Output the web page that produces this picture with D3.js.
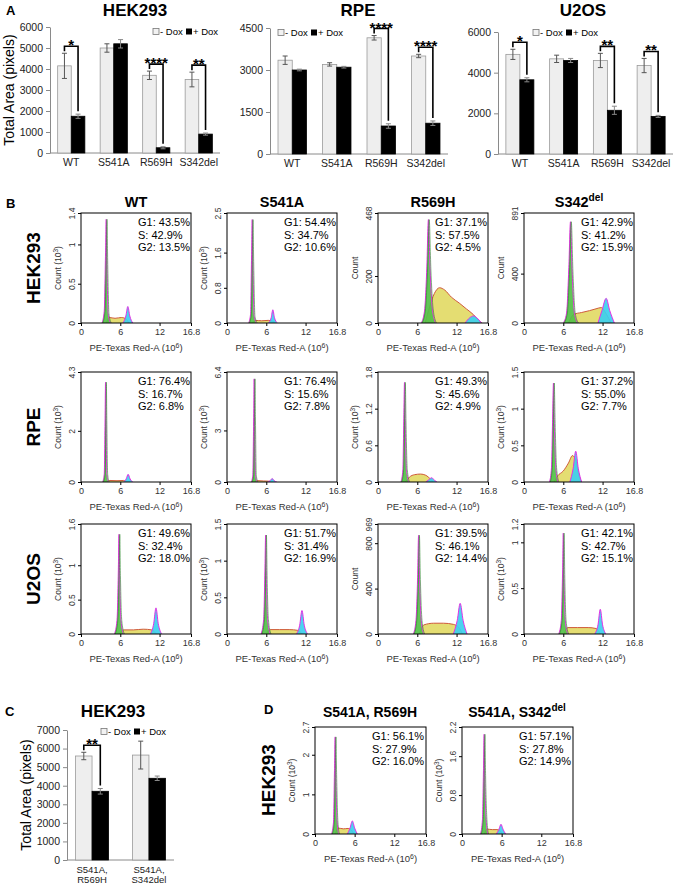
<!DOCTYPE html>
<html>
<head>
<meta charset="utf-8">
<script src="https://cdn.jsdelivr.net/npm/d3@7"></script>
<style>
  body { margin: 0; background: #fff; }
  svg { font-family: "Liberation Sans", Arial, sans-serif; }
</style>
</head>
<body>
<div id="chart"></div>
<script>
// ---- panel A / C : total area bars ----
const barCats = ["WT", "S541A", "R569H", "S342del"];

const hekMinus = [4150, 5000, 3700, 3500];
const hekMinusErr = [600, 200, 200, 350];
const hekPlus = [1750, 5200, 250, 900];
const hekPlusErr = [100, 200, 50, 50];
const hekStars = ["*", "", "****", "**"];

const rpeMinus = [3350, 3200, 4150, 3500];
const rpeMinusErr = [150, 60, 80, 60];
const rpePlus = [3000, 3100, 1000, 1100];
const rpePlusErr = [30, 30, 80, 80];
const rpeStars = ["", "", "****", "****"];

const u2Minus = [4900, 4680, 4600, 4350];
const u2MinusErr = [250, 180, 350, 350];
const u2Plus = [3650, 4600, 2150, 1850];
const u2PlusErr = [100, 100, 200, 50];
const u2Stars = ["*", "", "**", "**"];

const cCats = [["S541A,", "R569H"], ["S541A,", "S342del"]];
const cMinus = [5600, 5650];
const cMinusErr = [200, 750];
const cPlus = [3700, 4400];
const cPlusErr = [150, 120];
const cStars = ["**", ""];

// ---- panel B / D : cell cycle histograms ([x (10^6), count]) ----
const histCols = ["WT", "S541A", "R569H", "S342"];

const hekYMax = [1.4, 2.5, 468, 891];
const hekYTicks = [[0, 0.5, 1, 1.4], [0, 0.8, 1.6, 2.5], [0, 200, 468], [0, 400, 891]];
const hekThousands = [true, true, false, false];
const hekStats = [[43.5, 42.9, 13.5], [54.4, 34.7, 10.6], [37.1, 57.5, 4.5], [42.9, 41.2, 15.9]];
const hekG1 = [
  [[3.2, 0], [3.55, 0.15], [3.75, 0.9], [3.85, 1.32], [3.95, 0.8], [4.15, 0.12], [4.5, 0]],
  [[3.3, 0], [3.6, 0.2], [3.75, 1.5], [3.85, 2.35], [3.95, 1.4], [4.15, 0.15], [4.5, 0]],
  [[6.6, 0], [7.1, 50], [7.45, 230], [7.7, 440], [7.95, 230], [8.3, 60], [8.8, 0]],
  [[6.0, 0], [6.5, 80], [6.85, 450], [7.1, 820], [7.35, 420], [7.7, 80], [8.2, 0]]
];
const hekS = [
  [[3.9, 0], [4.3, 0.07], [5.2, 0.06], [6.2, 0.07], [6.9, 0.05], [7.3, 0]],
  [[3.9, 0], [4.3, 0.06], [5.3, 0.05], [6.3, 0.06], [7.0, 0.04], [7.4, 0]],
  [[7.2, 0], [7.9, 70], [8.6, 125], [9.4, 150], [10.2, 140], [11.2, 110], [12.4, 85], [13.5, 60], [14.6, 35], [15.4, 10], [15.9, 0]],
  [[6.8, 0], [7.6, 70], [8.8, 85], [10.0, 100], [11.0, 115], [11.8, 125], [12.6, 70], [13.3, 0]]
];
const hekG2 = [
  [[6.4, 0], [6.85, 0.09], [7.15, 0.21], [7.45, 0.09], [7.9, 0]],
  [[6.3, 0], [6.75, 0.12], [7.0, 0.3], [7.25, 0.12], [7.7, 0]],
  [[13.3, 0], [14.0, 22], [14.6, 30], [15.1, 22], [15.8, 0]],
  [[11.3, 0], [11.9, 100], [12.55, 200], [13.1, 100], [13.8, 0]]
];

const rpeYMax = [4.3, 6.4, 1.8, 1.5];
const rpeYTicks = [[0, 2, 4.3], [0, 3, 6.4], [0, 0.6, 1.2, 1.8], [0, 0.5, 1, 1.5]];
const rpeThousands = [true, true, true, true];
const rpeStats = [[76.4, 16.7, 6.8], [76.4, 15.6, 7.8], [49.3, 45.6, 4.9], [37.2, 55.0, 7.7]];
const rpeG1 = [
  [[3.3, 0], [3.55, 0.3], [3.68, 2.5], [3.75, 3.9], [3.82, 2.4], [3.95, 0.3], [4.2, 0]],
  [[3.7, 0], [3.95, 0.4], [4.08, 4.0], [4.15, 6.0], [4.22, 3.8], [4.35, 0.4], [4.6, 0]],
  [[3.5, 0], [3.8, 0.2], [3.95, 1.1], [4.05, 1.63], [4.15, 1.0], [4.35, 0.2], [4.7, 0]],
  [[3.9, 0], [4.2, 0.2], [4.38, 0.9], [4.5, 1.35], [4.62, 0.85], [4.85, 0.2], [5.2, 0]]
];
const rpeS = [
  [[3.9, 0], [4.4, 0.06], [5.5, 0.05], [6.5, 0.06], [7.0, 0]],
  [[4.2, 0], [4.7, 0.08], [5.6, 0.06], [6.3, 0.05], [6.8, 0]],
  [[4.2, 0], [4.8, 0.08], [5.6, 0.12], [6.5, 0.13], [7.3, 0.11], [8.0, 0.05], [8.5, 0]],
  [[4.6, 0], [5.1, 0.08], [6.0, 0.15], [6.8, 0.26], [7.4, 0.36], [7.9, 0.3], [8.4, 0.08], [8.8, 0]]
];
const rpeG2 = [
  [[6.5, 0], [6.9, 0.12], [7.2, 0.3], [7.5, 0.12], [7.9, 0]],
  [[6.2, 0], [6.6, 0.08], [6.9, 0.2], [7.2, 0.08], [7.6, 0]],
  [[7.3, 0], [7.8, 0.04], [8.2, 0.07], [8.6, 0.03], [9.0, 0]],
  [[7.0, 0], [7.5, 0.18], [7.9, 0.42], [8.3, 0.18], [8.8, 0]]
];

const u2YMax = [1.6, 1.5, 969, 1.2];
const u2YTicks = [[0, 0.5, 1, 1.6], [0, 0.5, 1, 1.5], [0, 400, 800, 969], [0, 0.5, 1, 1.2]];
const u2Thousands = [true, true, false, true];
const u2Stats = [[49.6, 32.4, 18.0], [51.7, 31.4, 16.9], [39.5, 46.1, 14.4], [42.1, 42.7, 15.1]];
const u2G1 = [
  [[5.1, 0], [5.5, 0.2], [5.7, 0.9], [5.8, 1.45], [5.9, 0.85], [6.1, 0.2], [6.5, 0]],
  [[5.2, 0], [5.6, 0.2], [5.8, 0.9], [5.9, 1.35], [6.0, 0.8], [6.2, 0.2], [6.6, 0]],
  [[5.4, 0], [5.8, 120], [6.05, 500], [6.2, 870], [6.35, 480], [6.6, 120], [7.0, 0]],
  [[5.3, 0], [5.7, 0.15], [5.9, 0.7], [6.0, 1.1], [6.1, 0.65], [6.3, 0.15], [6.7, 0]]
];
const u2S = [
  [[5.9, 0], [6.5, 0.06], [8.0, 0.06], [9.5, 0.07], [10.8, 0.06], [11.5, 0]],
  [[6.0, 0], [6.6, 0.06], [8.0, 0.06], [9.5, 0.06], [10.8, 0.05], [11.5, 0]],
  [[6.3, 0], [7.0, 80], [8.5, 95], [10.0, 95], [11.5, 85], [12.3, 60], [12.9, 0]],
  [[6.1, 0], [6.7, 0.07], [8.2, 0.07], [9.8, 0.07], [11.0, 0.06], [11.7, 0]]
];
const u2G2 = [
  [[10.6, 0], [11.1, 0.15], [11.45, 0.38], [11.8, 0.15], [12.3, 0]],
  [[10.6, 0], [11.1, 0.12], [11.45, 0.32], [11.8, 0.12], [12.3, 0]],
  [[11.5, 0], [12.1, 120], [12.55, 270], [13.0, 120], [13.6, 0]],
  [[10.8, 0], [11.3, 0.1], [11.65, 0.27], [12.0, 0.1], [12.5, 0]]
];

const dYMax = [2.7, 2.2];
const dYTicks = [[0, 1, 2, 2.7], [0, 0.8, 1.6, 2.2]];
const dStats = [[56.1, 27.9, 16.0], [57.1, 27.8, 14.9]];
const dG1 = [
  [[2.5, 0], [2.8, 0.3], [2.95, 1.6], [3.05, 2.45], [3.15, 1.5], [3.35, 0.3], [3.6, 0]],
  [[2.8, 0], [3.1, 0.3], [3.25, 1.3], [3.35, 2.05], [3.45, 1.2], [3.65, 0.3], [3.9, 0]]
];
const dS = [
  [[3.1, 0], [3.5, 0.15], [4.3, 0.13], [5.0, 0.14], [5.5, 0.1], [5.9, 0]],
  [[3.4, 0], [3.8, 0.1], [4.6, 0.09], [5.3, 0.09], [5.8, 0.06], [6.1, 0]]
];
const dG2 = [
  [[4.9, 0], [5.3, 0.15], [5.65, 0.33], [6.0, 0.15], [6.4, 0]],
  [[5.2, 0], [5.6, 0.1], [5.9, 0.2], [6.2, 0.1], [6.6, 0]]
];

const xTicks = [0, 6, 12, 16.8];

const FONT = '"Liberation Sans", Arial, sans-serif';
const svg = d3.select("#chart").append("svg")
  .attr("width", 677)
  .attr("height", 884);

function label(x, y, txt, size, weight, anchor) {
  return svg.append("text")
    .attr("x", x).attr("y", y)
    .attr("font-size", size)
    .attr("font-weight", weight || "normal")
    .attr("text-anchor", anchor || "start")
    .text(txt);
}

function rotLabel(x, y, txt, size, weight) {
  return svg.append("text")
    .attr("transform", `translate(${x},${y}) rotate(-90)`)
    .attr("font-size", size)
    .attr("font-weight", weight || "normal")
    .attr("text-anchor", "middle")
    .text(txt);
}

// ---------- bar chart ----------
function drawBars(o) {
  const y = d3.scaleLinear().domain([0, o.yMax]).range([o.yb, o.yt]);
  const x0 = d3.scaleBand().domain(d3.range(o.minus.length))
    .range([o.xl, o.xr]).paddingInner(o.pin).paddingOuter(o.pout);
  const x1 = d3.scaleBand().domain([0, 1]).range([0, x0.bandwidth()]);
  const g = svg.append("g");

  g.append("g").attr("transform", `translate(${o.xl},0)`)
    .call(d3.axisLeft(y).tickValues(o.ticks).tickSize(4).tickPadding(3).tickSizeOuter(0).tickFormat(d => String(d)))
    .call(a => {
      a.select(".domain").attr("stroke", "#8a8a8a");
      a.selectAll(".tick line").attr("stroke", "#8a8a8a");
      a.selectAll(".tick text").attr("font-size", 10.5).attr("fill", "#222").attr("font-family", FONT);
    });

  const xa = g.append("g").attr("transform", `translate(0,${o.yb})`)
    .call(d3.axisBottom(x0).tickSize(0).tickPadding(6).tickSizeOuter(0).tickFormat(""));
  xa.select(".domain").attr("stroke", "#8a8a8a").attr("d", `M${o.xl},0H${o.xr}`);
  xa.selectAll(".tick").each(function (i) {
    const t = d3.select(this).select("text").attr("fill", "#222")
      .attr("font-size", o.catSize).attr("font-family", FONT);
    const lines = Array.isArray(o.cats[i]) ? o.cats[i] : [o.cats[i]];
    lines.forEach((ln, k) => t.append("tspan").attr("x", 0).attr("dy", k === 0 ? "0.71em" : "1.1em").text(ln));
  });

  const bars = [];
  o.minus.forEach((v, i) => {
    bars.push({ i, k: 0, v, e: o.minusErr[i] });
    bars.push({ i, k: 1, v: o.plus[i], e: o.plusErr[i] });
  });
  const bw = x1.bandwidth();
  g.selectAll("rect.bar").data(bars).join("rect")
    .attr("x", d => x0(d.i) + x1(d.k))
    .attr("y", d => y(d.v))
    .attr("width", bw)
    .attr("height", d => y(0) - y(d.v))
    .attr("fill", d => d.k === 0 ? "#eeeeee" : "#000")
    .attr("stroke", d => d.k === 0 ? "#9a9a9a" : "#000")
    .attr("stroke-width", 0.8);

  // error bars
  const cx = d => x0(d.i) + x1(d.k) + bw / 2;
  const eb = g.selectAll("g.err").data(bars).join("g")
    .attr("stroke", d => d.k === 0 ? "#555" : "#888").attr("stroke-width", 1);
  eb.append("line").attr("x1", cx).attr("x2", cx)
    .attr("y1", d => y(d.v - d.e)).attr("y2", d => y(d.v + d.e));
  eb.append("line").attr("x1", d => cx(d) - 2.5).attr("x2", d => cx(d) + 2.5)
    .attr("y1", d => y(d.v + d.e)).attr("y2", d => y(d.v + d.e));
  eb.append("line").attr("x1", d => cx(d) - 2.5).attr("x2", d => cx(d) + 2.5)
    .attr("y1", d => y(d.v - d.e)).attr("y2", d => y(d.v - d.e));

  // significance brackets
  o.stars.forEach((st, i) => {
    if (!st) return;
    const xa1 = x0(i) + x1(0) + bw / 2, xb1 = x0(i) + x1(1) + bw / 2;
    const ya = y(o.minus[i] + o.minusErr[i]) - 2;
    const top = ya - 5;
    const yb = y(o.plus[i] + o.plusErr[i]) - 3;
    g.append("path")
      .attr("d", `M${xa1},${ya}V${top}H${xb1}V${yb}`)
      .attr("fill", "none").attr("stroke", "#000").attr("stroke-width", 1.6);
    g.append("text").attr("x", (xa1 + xb1) / 2).attr("y", top + 4)
      .attr("text-anchor", "middle").attr("font-size", 15).attr("font-weight", "bold")
      .text(st);
  });

  // legend
  const lg = g.append("g").attr("transform", `translate(${o.lx},${o.ly})`).attr("font-size", 9.5);
  lg.append("rect").attr("x", 0).attr("y", -6.5).attr("width", 6).attr("height", 6)
    .attr("fill", "#f2f2f2").attr("stroke", "#777").attr("stroke-width", 0.8);
  lg.append("text").attr("x", 7).attr("y", 0).text("- Dox");
  lg.append("rect").attr("x", 33).attr("y", -6.5).attr("width", 6).attr("height", 6).attr("fill", "#000");
  lg.append("text").attr("x", 40).attr("y", 0).text("+ Dox");

  label(o.titleX, o.titleY, o.title, 17, "bold", "middle");
}

drawBars({ title: "HEK293", titleX: 135, titleY: 16, xl: 50, xr: 220, yt: 27, yb: 153, yMax: 6000,
  ticks: [0, 1000, 2000, 3000, 4000, 5000, 6000], cats: barCats, catSize: 10.5, pin: 0.36, pout: 0.18,
  minus: hekMinus, minusErr: hekMinusErr, plus: hekPlus, plusErr: hekPlusErr, stars: hekStars, lx: 153, ly: 35 });
drawBars({ title: "RPE", titleX: 358, titleY: 16, xl: 270, xr: 448, yt: 28, yb: 154, yMax: 4500,
  ticks: [0, 1500, 3000, 4500], cats: barCats, catSize: 10.5, pin: 0.36, pout: 0.18,
  minus: rpeMinus, minusErr: rpeMinusErr, plus: rpePlus, plusErr: rpePlusErr, stars: rpeStars, lx: 278, ly: 36 });
drawBars({ title: "U2OS", titleX: 583, titleY: 16, xl: 498, xr: 673, yt: 32, yb: 154, yMax: 6000,
  ticks: [0, 2000, 4000, 6000], cats: barCats, catSize: 10.5, pin: 0.36, pout: 0.18,
  minus: u2Minus, minusErr: u2MinusErr, plus: u2Plus, plusErr: u2PlusErr, stars: u2Stars, lx: 533, ly: 36 });
drawBars({ title: "HEK293", titleX: 113, titleY: 717, xl: 67, xr: 174, yt: 730, yb: 860, yMax: 7000,
  ticks: [0, 1000, 2000, 3000, 4000, 5000, 6000, 7000], cats: cCats, catSize: 9.5, pin: 0.42, pout: 0.15,
  minus: cMinus, minusErr: cMinusErr, plus: cPlus, plusErr: cPlusErr, stars: cStars, lx: 101, ly: 735 });

rotLabel(14, 90, "Total Area (pixels)", 14);
rotLabel(31, 795, "Total Area (pixels)", 14);
label(6, 15, "A", 13, "bold");
label(5, 716, "C", 13, "bold");

// ---------- histograms ----------
let clipN = 0;
function drawHist(left, top, w, h, yMax, ticks, thousands, g1, s, g2, stats) {
  const x = d3.scaleLinear().domain([0, 16.8]).range([left, left + w]);
  const y = d3.scaleLinear().domain([0, yMax]).range([top + h, top]);
  const g = svg.append("g");
  const cid = "clip" + (clipN++);
  g.append("clipPath").attr("id", cid).append("rect")
    .attr("x", left).attr("y", top).attr("width", w).attr("height", h);

  const area = d3.area().x(d => x(d[0])).y0(y(0)).y1(d => y(d[1])).curve(d3.curveMonotoneX);
  const line = d3.line().x(d => x(d[0])).y(d => y(d[1])).curve(d3.curveMonotoneX);
  const p = g.append("g").attr("clip-path", `url(#${cid})`);
  [[s, "#e2da66", "#cf5a3a"], [g2, "#3ccfee", "#e52ee5"], [g1, "#52c048", "#e52ee5"]].forEach(([pts, fill, stroke]) => {
    p.append("path").datum(pts).attr("d", area).attr("fill", fill).attr("opacity", 0.92);
    p.append("path").datum(pts).attr("d", line).attr("fill", "none").attr("stroke", stroke).attr("stroke-width", 1);
  });
  // green model line inside G1 peak
  p.append("path").datum(g1).attr("d", line).attr("fill", "none")
    .attr("stroke", "#2a8a2a").attr("stroke-width", 0.6).attr("transform", "translate(0.8,0)");

  g.append("rect").attr("x", left).attr("y", top).attr("width", w).attr("height", h)
    .attr("fill", "none").attr("stroke", "#000").attr("stroke-width", 1);

  const ya = g.append("g").attr("transform", `translate(${left},0)`)
    .call(d3.axisLeft(y).tickValues(ticks).tickSize(3).tickSizeOuter(0).tickFormat(d => String(d)));
  ya.select(".domain").remove();
  ya.selectAll(".tick text")
    .attr("transform", "rotate(-90)").attr("x", 0).attr("y", -6).attr("dy", 0)
    .attr("text-anchor", "middle").attr("font-size", 8.5).attr("fill", "#333").attr("font-family", FONT);

  const xa = g.append("g").attr("transform", `translate(0,${top + h})`)
    .call(d3.axisBottom(x).tickValues(xTicks).tickSize(3).tickPadding(3).tickSizeOuter(0).tickFormat(d => String(d)));
  xa.select(".domain").remove();
  xa.selectAll(".tick text").attr("font-size", 9).attr("fill", "#333").attr("font-family", FONT);

  // axis titles
  const yl = svg.append("text")
    .attr("transform", `translate(${left - 20},${top + h / 2}) rotate(-90)`)
    .attr("font-size", 8.5).attr("fill", "#333").attr("text-anchor", "middle");
  if (thousands) {
    yl.text("Count  (10");
    yl.append("tspan").attr("dy", -3).attr("font-size", 6.5).text("3");
    yl.append("tspan").attr("dy", 3).text(")");
  } else {
    yl.text("Count");
  }
  const xl = svg.append("text").attr("x", left + w / 2).attr("y", top + h + 28)
    .attr("font-size", 9.5).attr("fill", "#333").attr("text-anchor", "middle").text("PE-Texas Red-A  (10");
  xl.append("tspan").attr("dy", -3.5).attr("font-size", 7).text("6");
  xl.append("tspan").attr("dy", 3.5).text(")");

  // phase percentages
  ["G1", "S", "G2"].forEach((ph, k) => {
    svg.append("text").attr("x", left + 57).attr("y", top + 13 + k * 12.5)
      .attr("font-size", 11).text(`${ph}: ${stats[k].toFixed(1)}%`);
  });
}

function colTitle(cx, y, name, size) {
  const t = label(cx, y, name, size, "bold", "middle");
  if (name === "S342") {
    t.append("tspan").attr("dy", -6).attr("font-size", size * 0.7).text("del");
  }
  return t;
}

const colLeft = [81, 227, 378, 524];
const rowTop = [213, 372, 524];
const HW = 110, HH = 110;

const rows = [
  [hekYMax, hekYTicks, hekThousands, hekG1, hekS, hekG2, hekStats, "HEK293"],
  [rpeYMax, rpeYTicks, rpeThousands, rpeG1, rpeS, rpeG2, rpeStats, "RPE"],
  [u2YMax, u2YTicks, u2Thousands, u2G1, u2S, u2G2, u2Stats, "U2OS"]
];
rows.forEach((r, ri) => {
  histCols.forEach((c, ci) => {
    drawHist(colLeft[ci], rowTop[ri], HW, HH, r[0][ci], r[1][ci], r[2][ci], r[3][ci], r[4][ci], r[5][ci], r[6][ci]);
  });
  rotLabel(40, rowTop[ri] + HH / 2, r[7], 19, "bold");
});
histCols.forEach((c, ci) => colTitle(colLeft[ci] + HW / 2, 207, c, 14.5));
label(6, 208, "B", 13, "bold");

// panel D
const dLeft = [315, 462];
const dTitles = [["S541A, R569H", ""], ["S541A, S342", "del"]];
dLeft.forEach((l, i) => {
  drawHist(l, 727, 111, 107, dYMax[i], dYTicks[i], true, dG1[i], dS[i], dG2[i], dStats[i]);
  const t = label(l + 55, 717, dTitles[i][0], 14, "bold", "middle");
  if (dTitles[i][1]) t.append("tspan").attr("dy", -6).attr("font-size", 10).text(dTitles[i][1]);
});
rotLabel(275, 780, "HEK293", 19, "bold");
label(264, 714, "D", 13, "bold");
</script>
</body>
</html>
